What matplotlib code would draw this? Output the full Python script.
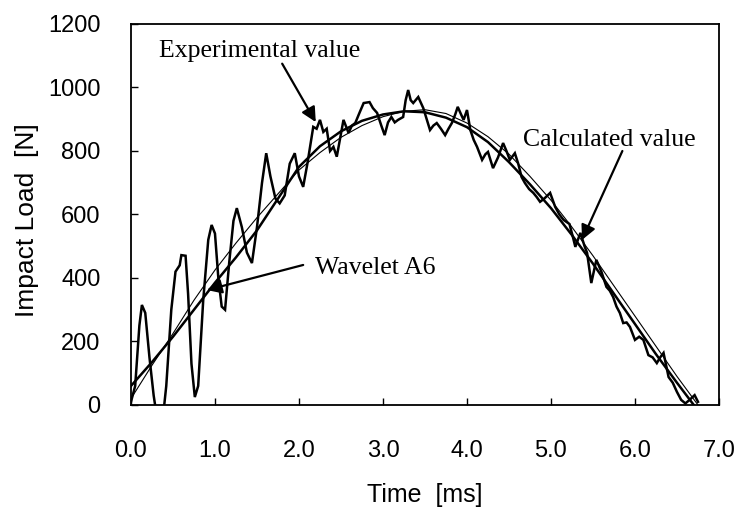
import numpy as np
import matplotlib.pyplot as plt

# experimental value (noisy measured trace)
exp_t = [0.0, 0.05, 0.1, 0.13, 0.17, 0.22, 0.27, 0.31, 0.38, 0.42, 0.48, 0.53, 0.58, 0.60, 0.65,
         0.68, 0.72, 0.76, 0.80, 0.86, 0.92, 0.96, 1.0, 1.04, 1.08, 1.12, 1.17, 1.22, 1.26, 1.32,
         1.38, 1.44, 1.5, 1.56, 1.61, 1.66, 1.72, 1.77, 1.83, 1.89, 1.95, 2.0, 2.05, 2.1, 2.17,
         2.21, 2.25, 2.29, 2.33, 2.37, 2.41, 2.45, 2.49, 2.53, 2.59, 2.63, 2.67, 2.72, 2.77, 2.84,
         2.88, 2.93, 2.98, 3.02, 3.06, 3.10, 3.14, 3.18, 3.24, 3.27, 3.30, 3.33, 3.36, 3.42, 3.48,
         3.52, 3.56, 3.60, 3.64, 3.69, 3.74, 3.78, 3.82, 3.86, 3.89, 3.93, 3.96, 4.0, 4.04, 4.08,
         4.12, 4.18, 4.22, 4.25, 4.31, 4.37, 4.43, 4.47, 4.51, 4.57, 4.61, 4.65, 4.69, 4.74, 4.79,
         4.83, 4.87, 4.92, 4.99, 5.05, 5.1, 5.15, 5.22, 5.26, 5.29, 5.35, 5.40, 5.43, 5.48, 5.54,
         5.6, 5.66, 5.70, 5.74, 5.78, 5.82, 5.86, 5.90, 5.94, 6.0, 6.05, 6.10, 6.16, 6.21, 6.26,
         6.30, 6.34, 6.40, 6.45, 6.50, 6.55, 6.60, 6.65, 6.71, 6.75]
exp_f = [10, 60, 250, 315, 290, 150, 30, -40, -40, 60, 300, 420, 440, 472, 470,
         350, 130, 25, 60, 330, 520, 567, 540, 400, 310, 300, 450, 580, 620, 560,
         480, 447, 560, 700, 793, 720, 650, 635, 660, 760, 793, 720, 687, 760, 876,
         870, 898, 860, 870, 800, 813, 782, 840, 898, 857, 880, 888, 920, 951, 954,
         935, 920, 880, 850, 890, 907, 890, 898, 907, 960, 992, 960, 951, 970, 935,
         900, 866, 880, 888, 870, 850, 870, 888, 915, 939, 915, 898, 929, 866, 835,
         813, 772, 790, 797, 746, 780, 825, 800, 772, 793, 760, 718, 699, 680, 668,
         655, 640, 650, 668, 624, 600, 583, 570, 530, 498, 542, 500, 479, 384, 457,
         420, 372, 360, 340, 310, 290, 258, 260, 246, 205, 215, 205, 157, 150, 132,
         150, 164, 88, 70, 41, 16, 5, 16, 31, 10]

# wavelet A6 approximation
wav_t = [0.0, 0.25, 0.5, 0.75, 1.0, 1.25, 1.5, 1.75, 2.0, 2.25, 2.5, 2.75, 3.0, 3.25,
         3.5, 3.75, 4.0, 4.25, 4.5, 4.75, 5.0, 5.25, 5.5, 5.75, 6.0, 6.25, 6.5, 6.7]
wav_f = [60, 135, 215, 300, 385, 465, 550, 650, 750, 815, 862, 895, 915, 925,
         922, 905, 875, 828, 765, 695, 620, 535, 445, 350, 255, 160, 70, 0]

# calculated value
calc_t = [0.0, 0.25, 0.5, 0.75, 1.0, 1.25, 1.5, 1.75, 2.0, 2.25, 2.5, 2.75, 3.0, 3.25,
          3.5, 3.75, 4.0, 4.25, 4.5, 4.75, 5.0, 5.25, 5.5, 5.75, 6.0, 6.25, 6.5, 6.75]
calc_f = [20, 125, 225, 330, 425, 510, 590, 665, 740, 795, 843, 880, 908, 925,
          930, 918, 888, 845, 790, 720, 645, 560, 470, 375, 280, 185, 90, 0]

xticks = [0, 1, 2, 3, 4, 5, 6, 7]
yticks = [0, 200, 400, 600, 800, 1000, 1200]

sans = ['Liberation Sans Narrow', 'Liberation Sans', 'DejaVu Sans']
serif = ['Liberation Serif', 'DejaVu Serif']

fig = plt.figure(figsize=(7.35, 5.07), dpi=100)
ax = fig.add_axes([0.1782, 0.2012, 0.8, 0.7515])

ax.plot(exp_t, exp_f, color='black', lw=1.8, solid_joinstyle='miter')
ax.plot(wav_t, wav_f, color='black', lw=1.8)
ax.plot(calc_t, calc_f, color='black', lw=0.8)

ax.set_xlim(0, 7)
ax.set_ylim(0, 1200)
ax.set_xticks(xticks)
ax.set_xticklabels([f"{v:.1f}" for v in xticks], family=sans, fontsize=17)
ax.set_yticks(yticks)
ax.set_yticklabels([str(v) for v in yticks], family=sans, fontsize=17)
ax.tick_params(axis='x', direction='in', length=5, width=1, pad=25)
ax.tick_params(axis='y', direction='in', length=5, width=1, pad=22)

for s in ax.spines.values():
    s.set_linewidth(1.3)
    s.set_color('black')

ax.set_xlabel("Time  [ms]", family=sans, fontsize=18)
ax.set_ylabel("Impact Load  [N]", family=sans, fontsize=19)
ax.xaxis.set_label_coords(0.5, -0.205)
ax.yaxis.set_label_coords(-0.156, 0.486)

# annotations
ax.text(0.333, 1096, "Experimental value", family=serif, fontsize=18.5, va='baseline')
ax.text(4.667, 816, "Calculated value", family=serif, fontsize=18.5, va='baseline')
ax.text(2.19, 413, "Wavelet A6", family=serif, fontsize=18.5, va='baseline')

arrow = dict(arrowstyle='-|>', color='black', lw=1.6, mutation_scale=22, shrinkA=0, shrinkB=0)
ax.annotate("", xy=(2.20, 891), xytext=(1.80, 1075), arrowprops=arrow)
ax.annotate("", xy=(0.905, 362), xytext=(2.05, 441), arrowprops=arrow)
ax.annotate("", xy=(5.37, 520), xytext=(5.85, 800), arrowprops=arrow)

fig.savefig("out.png", dpi=100)
